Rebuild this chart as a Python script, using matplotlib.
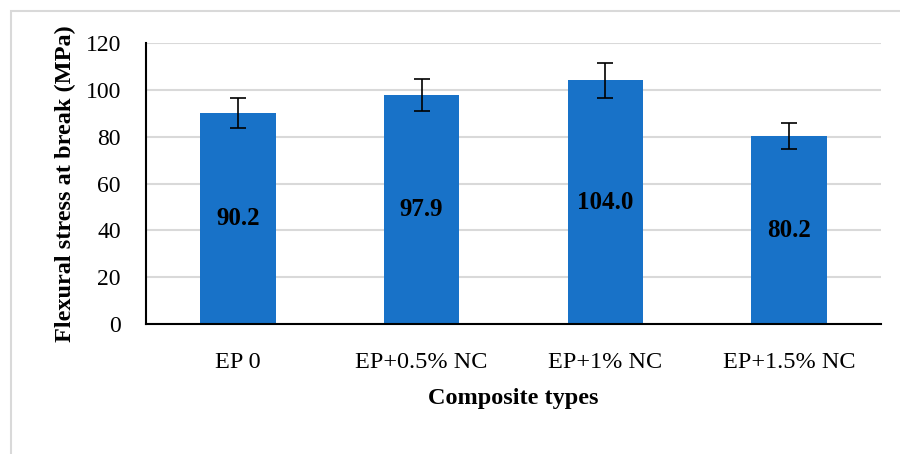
import matplotlib.pyplot as plt
from matplotlib.patches import Rectangle

categories = ["EP 0", "EP+0.5% NC", "EP+1% NC", "EP+1.5% NC"]
stress = [90.2, 97.9, 104.0, 80.2]
errors = [6.4, 6.9, 7.3, 5.6]
yticks = [0, 20, 40, 60, 80, 100, 120]

plt.rcParams["font.family"] = ["Liberation Serif", "DejaVu Serif"]

fig = plt.figure(figsize=(9, 4.54), dpi=100)
# light frame round the chart area (cropped at right/bottom in the source)
fig.patches.append(Rectangle((11 / 900, -0.1), 1.2, 1 - 11 / 454 + 0.1,
                             transform=fig.transFigure, fill=False,
                             edgecolor="#d9d9d9", linewidth=1.5))

ax = fig.add_axes([146 / 900, 130 / 454, 735 / 900, 281 / 454])
x = range(len(categories))
ax.bar(x, stress, width=0.41, color="#1872C8", zorder=2)
ax.errorbar(x, stress, yerr=errors, fmt="none", ecolor="black",
            elinewidth=1.2, capsize=6, capthick=1.2, zorder=3)

for i, v in enumerate(stress):
    ax.text(i, v / 2, f"{v:.1f}", ha="center", va="center",
            fontsize=18, fontweight="bold", color="black", zorder=4)

ax.set_xlim(-0.5, len(categories) - 0.5)
ax.set_ylim(0, 120)
ax.set_yticks(yticks)
ax.set_xticks(list(x))
ax.set_xticklabels(categories)
ax.tick_params(axis="y", length=0, pad=18, labelsize=17)
ax.tick_params(axis="x", length=0, pad=20, labelsize=17.5)
ax.grid(axis="y", color="#d9d9d9", linewidth=1.5, zorder=0)
ax.set_axisbelow(True)

for s in ["top", "right"]:
    ax.spines[s].set_visible(False)
ax.spines["left"].set_linewidth(1.5)
ax.spines["bottom"].set_linewidth(1.5)

ax.set_ylabel("Flexural stress at break (MPa)", fontsize=17.5,
              fontweight="bold")
ax.yaxis.set_label_coords(-0.095, 0.5)
ax.set_xlabel("Composite types", fontsize=17.5, fontweight="bold")
ax.xaxis.set_label_coords(0.5, -0.228)

plt.savefig("out.png", dpi=100)
